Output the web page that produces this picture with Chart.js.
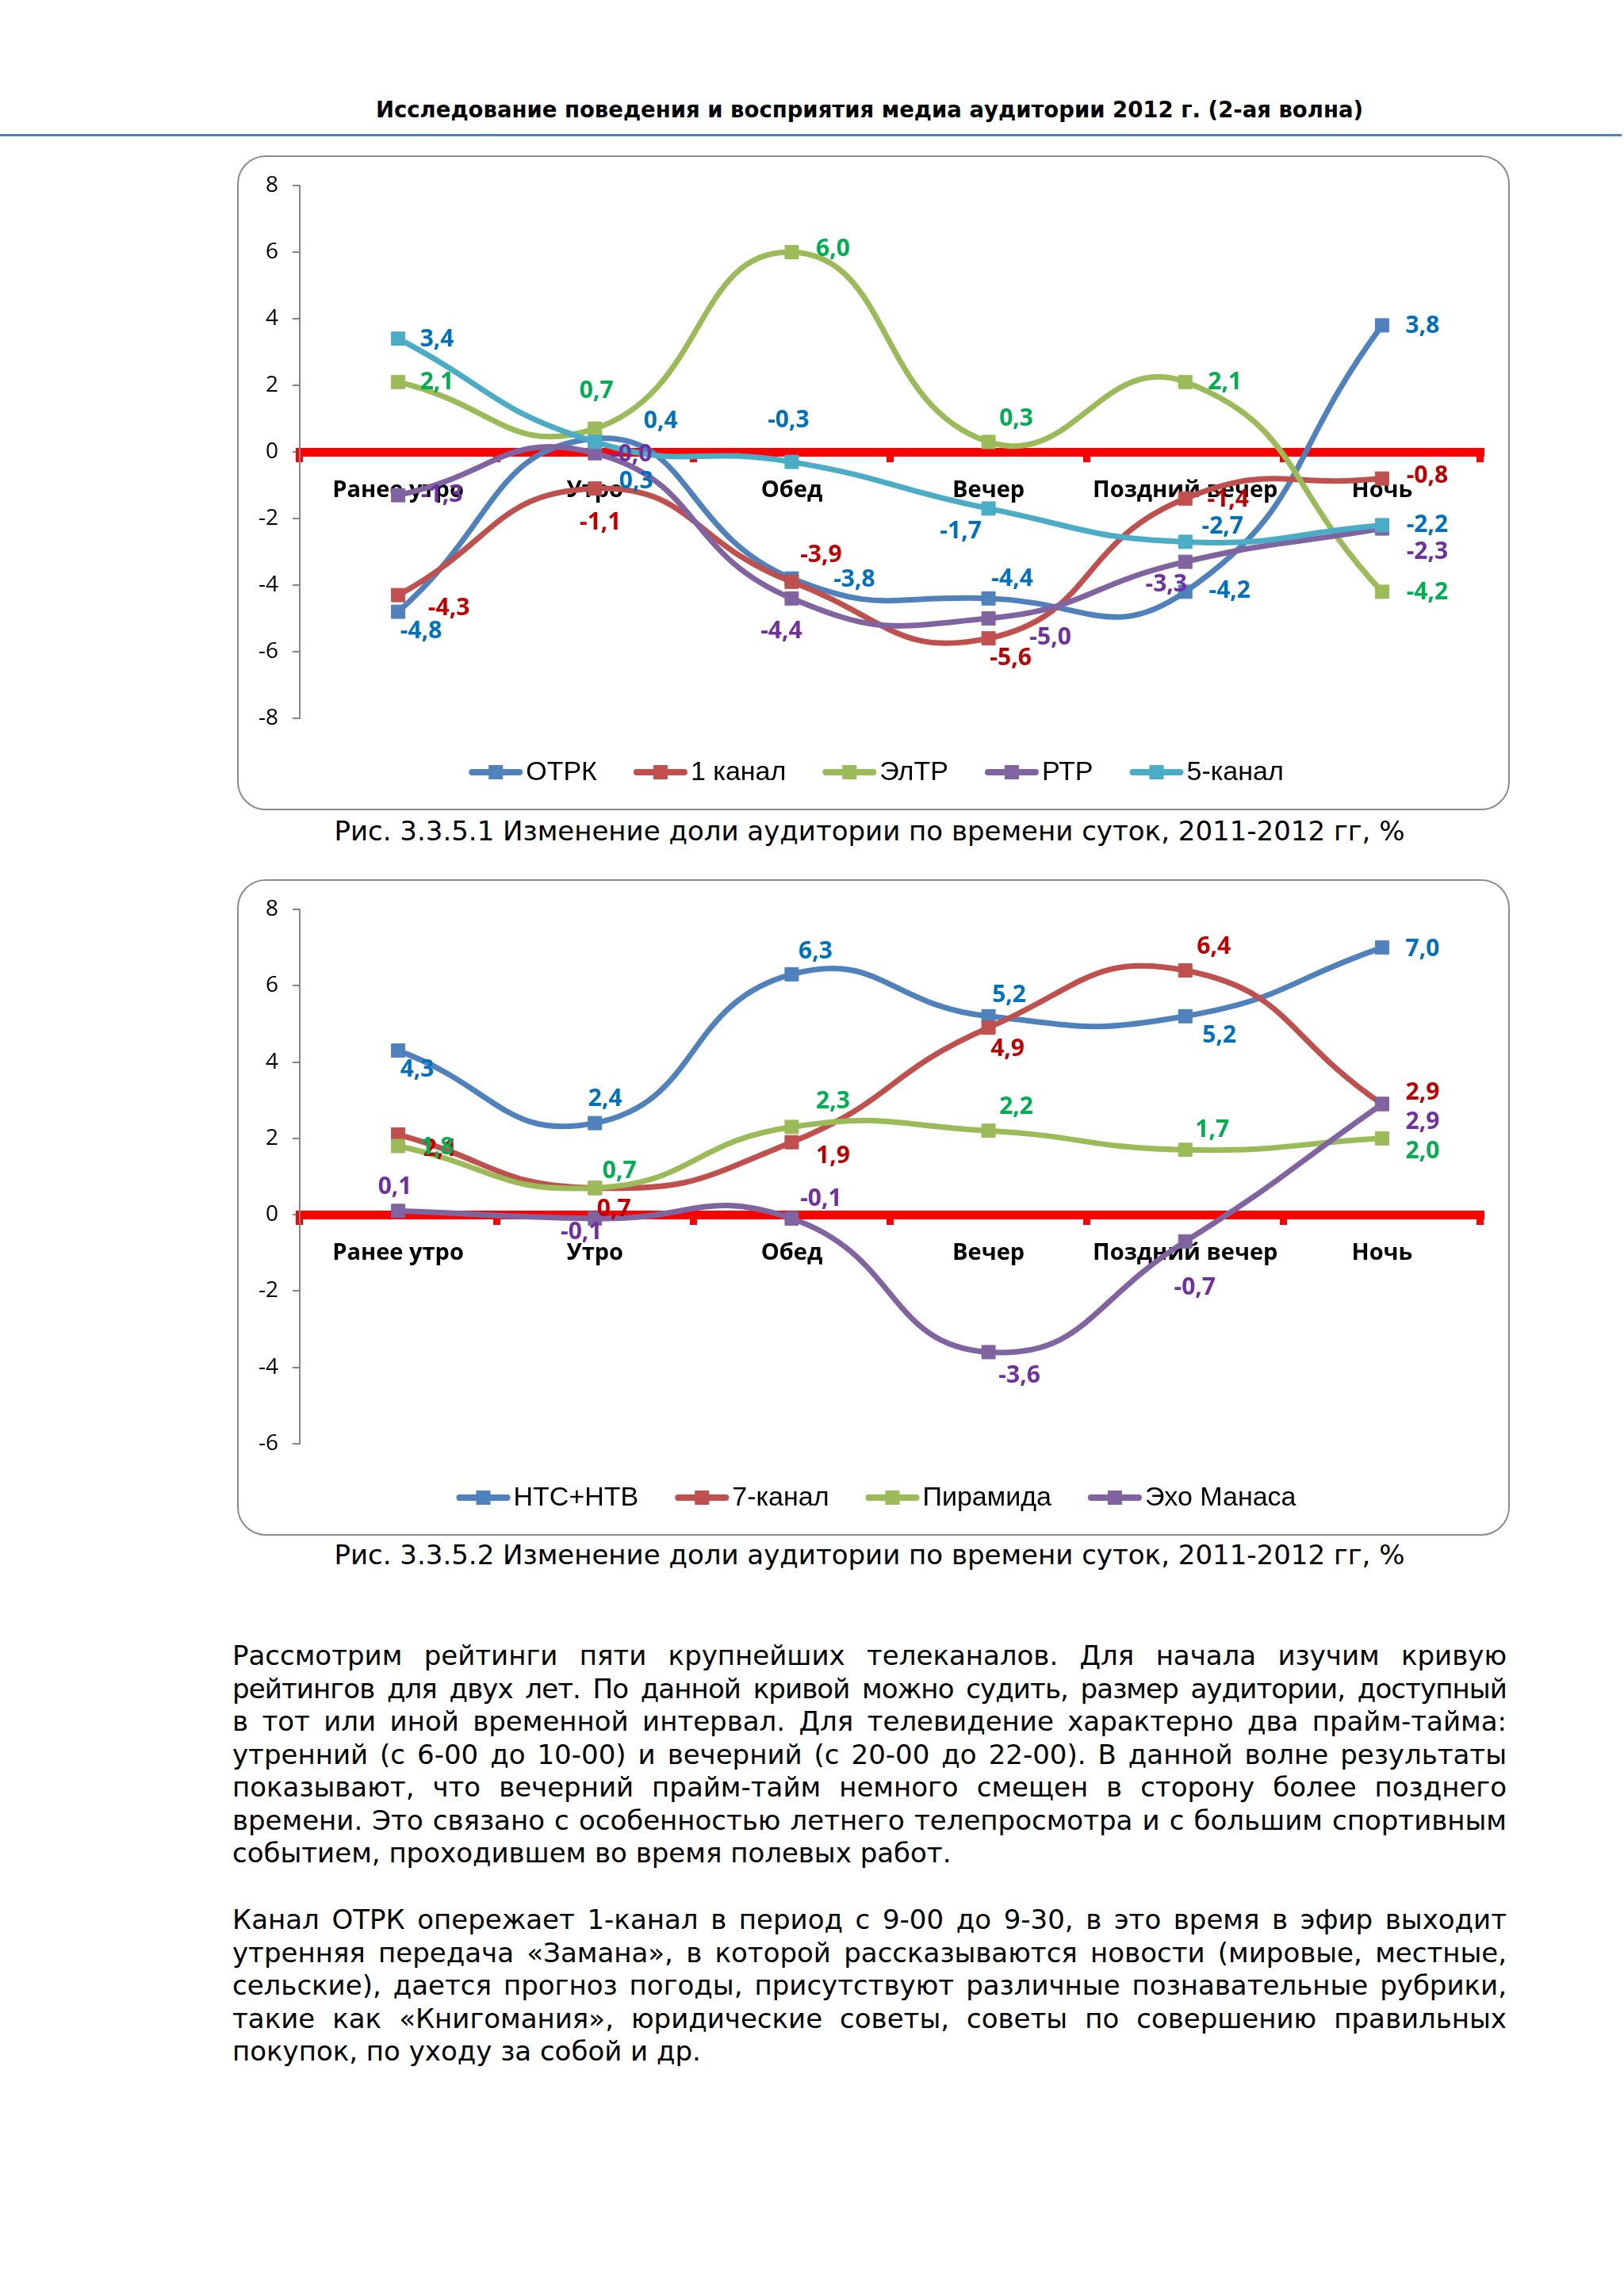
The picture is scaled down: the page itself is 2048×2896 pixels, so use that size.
<!DOCTYPE html>
<html>
<head>
<meta charset="utf-8">
<script src="https://cdn.jsdelivr.net/npm/chart.js@4.4.1/dist/chart.umd.min.js"></script>
<style>
html, body { margin: 0; padding: 0; background: #fff; }
body { width: 2048px; height: 2896px; position: relative; overflow: hidden; font-family: "DejaVu Sans", Verdana, sans-serif; color: #000; }
.header { position: absolute; left: 293px; width: 1607px; top: 118px; line-height: 40px; text-align: center; font-weight: bold; font-size: 27.5px; }
.rule { position: absolute; left: 0; width: 2045px; top: 169px; height: 3px; background: #4F81BD; }
.box { position: absolute; left: 299px; width: 1605px; border: 2px solid #8c8c8c; border-radius: 36px; box-sizing: border-box; background: #fff; }
.box canvas { position: absolute; left: 0; top: 0; }
.caption { position: absolute; left: 293px; width: 1607px; line-height: 40px; text-align: center; font-size: 34px; }
.para { position: absolute; left: 293px; width: 1607px; font-size: 34px; line-height: 41.5px; }
.para div { text-align: justify; text-align-last: justify; }
.para div.last { text-align: left; text-align-last: left; }
.para div.tight { letter-spacing: -0.9px; }
</style>
</head>
<body>
<div class="header">Исследование поведения и восприятия медиа аудитории 2012 г. (2-ая волна)</div>
<div class="rule"></div>

<div class="box" style="top:196px;height:826px;"><canvas id="chart1" width="1601" height="822"></canvas></div>
<div class="caption" style="top:1028px;">Рис. 3.3.5.1 Изменение доли аудитории по времени суток, 2011-2012 гг, %</div>

<div class="box" style="top:1109px;height:828px;"><canvas id="chart2" width="1601" height="824"></canvas></div>
<div class="caption" style="top:1941px;">Рис. 3.3.5.2 Изменение доли аудитории по времени суток, 2011-2012 гг, %</div>

<div class="para" style="top:2068px;">
  <div>Рассмотрим рейтинги пяти крупнейших телеканалов. Для начала изучим кривую</div>
  <div class="tight">рейтингов для двух лет. По данной кривой можно судить, размер аудитории, доступный</div>
  <div>в тот или иной временной интервал. Для телевидение характерно два прайм-тайма:</div>
  <div>утренний (с 6-00 до 10-00) и вечерний (с 20-00 до 22-00). В данной волне результаты</div>
  <div>показывают, что вечерний прайм-тайм немного смещен в сторону более позднего</div>
  <div>времени. Это связано с особенностью летнего телепросмотра и с большим спортивным</div>
  <div class="last">событием, проходившем во время полевых работ.</div>
</div>

<div class="para" style="top:2401px;">
  <div>Канал ОТРК опережает 1-канал в период с 9-00 до 9-30, в это время в эфир выходит</div>
  <div>утренняя передача «Замана», в которой рассказываются новости (мировые, местные,</div>
  <div>сельские), дается прогноз погоды, присутствуют различные познавательные рубрики,</div>
  <div>такие как «Книгомания», юридические советы, советы по совершению правильных</div>
  <div class="last">покупок, по уходу за собой и др.</div>
</div>

<script>
// Time-of-day categories (shared by both charts)
const periods = ['Ранее утро', 'Утро', 'Обед', 'Вечер', 'Поздний вечер', 'Ночь'];

// Chart 1 series
const otrk   = [-4.8, 0.4, -3.8, -4.4, -4.2, 3.8];
const kanal1 = [-4.3, -1.1, -3.9, -5.6, -1.4, -0.8];
const eltr   = [2.1, 0.7, 6.0, 0.3, 2.1, -4.2];
const rtr    = [-1.3, -0.04, -4.4, -5.0, -3.3, -2.3];
const kanal5 = [3.4, 0.3, -0.3, -1.7, -2.7, -2.2];

// Chart 2 series
const ntsNtv    = [4.3, 2.4, 6.3, 5.2, 5.2, 7.0];
const kanal7    = [2.1, 0.7, 1.9, 4.9, 6.4, 2.9];
const piramida  = [1.8, 0.7, 2.3, 2.2, 1.7, 2.0];
const ehoManasa = [0.1, -0.1, -0.1, -3.6, -0.7, 2.9];

// Excel 2007 palette
const lineColors = {
    blue: '#4F81BD',
    red: '#C0504D',
    green: '#9BBB59',
    purple: '#8064A2',
    cyan: '#4BACC6'
};
const labelColors = {
    blue: '#0070C0',
    red: '#C00000',
    green: '#00B050',
    purple: '#7030A0'
};

// Label offsets from the marker (px), one pair per point
const offsets1 = [
    [[29, 25], [83, -22], [79, 2], [30, -24], [56, -1], [51, 1]],
    [[64, 17], [7, 43], [37, -33], [28, 25], [54, 2], [57, -3]],
    [[49, 1], [2, -47], [52, -4], [35, -29], [50, 1], [57, 1]],
    [[55, 0], [46, 2], [-13, 42], [78, 24], [-24, 29], [57, 30]],
    [[49, 1], [52, 50], [-4, -52], [-35, 29], [47, -19], [57, 0]]
];
const offsets2 = [
    [[24, 24], [13, -30], [30, -28], [26, -26], [43, 25], [51, 2]],
    [[53, 18], [24, 27], [52, 18], [24, 27], [36, -30], [51, -14]],
    [[49, 2], [31, -21], [52, -32], [35, -30], [34, -25], [51, 17]],
    [[-4, -30], [-17, 17], [37, -25], [39, 30], [12, 59], [51, 23]]
];

const fmt = v => v.toFixed(1).replace('.', ',');

// Draws the value labels next to each marker (after everything else)
const valueLabels = {
    id: 'valueLabels',
    afterDraw(chart, args, opts) {
        const ctx = chart.ctx;
        ctx.save();
        ctx.font = 'bold 30px "Open Sans", sans-serif';
        ctx.textAlign = 'center';
        ctx.textBaseline = 'middle';
        chart.data.datasets.forEach((ds, i) => {
            const meta = chart.getDatasetMeta(i);
            ctx.fillStyle = opts.colors[i];
            meta.data.forEach((pt, j) => {
                const o = opts.offsets[i][j];
                ctx.fillText(fmt(ds.data[j]), pt.x + o[0], pt.y + o[1]);
            });
        });
        ctx.restore();
    }
};

// Excel-like legend: line segment with a square marker
const lineLegend = {
    id: 'lineLegend',
    afterDraw(chart, args, opts) {
        const ctx = chart.ctx;
        const iconW = 68, gap = 4, spacing = 46;
        ctx.save();
        ctx.font = '34px "Liberation Sans", Arial, sans-serif';
        const items = chart.data.datasets.map(ds => ({
            ds,
            w: iconW + gap + ctx.measureText(ds.label).width
        }));
        const total = items.reduce((s, it) => s + it.w, 0) + spacing * (items.length - 1);
        let x = opts.centerX - total / 2;
        const y = opts.y;
        items.forEach(it => {
            const c = it.ds.borderColor;
            ctx.strokeStyle = c;
            ctx.lineWidth = 8;
            ctx.lineCap = 'round';
            ctx.beginPath();
            ctx.moveTo(x + 4, y);
            ctx.lineTo(x + iconW - 4, y);
            ctx.stroke();
            ctx.fillStyle = c;
            ctx.fillRect(x + iconW / 2 - 9, y - 9, 18, 18);
            ctx.fillStyle = '#000';
            ctx.textAlign = 'left';
            ctx.textBaseline = 'middle';
            ctx.fillText(it.ds.label, x + iconW + gap, y + 1);
            x += it.w + spacing;
        });
        ctx.restore();
    }
};

function makeDataset(label, data, color, index) {
    return {
        label: label,
        data: data,
        borderColor: color,
        backgroundColor: color,
        borderWidth: 7,
        tension: 0.5,
        fill: false,
        pointStyle: 'rect',
        pointRadius: 12,
        pointBorderWidth: 1,
        pointBackgroundColor: color,
        pointBorderColor: color,
        order: -index
    };
}

function makeChart(canvasId, datasets, yMin, yMax, bottomPad, labelOpts, legendY) {
    return new Chart(document.getElementById(canvasId), {
        type: 'line',
        data: { labels: periods, datasets: datasets },
        options: {
            responsive: false,
            devicePixelRatio: 1,
            animation: false,
            layout: { padding: { top: 36, right: 35, bottom: bottomPad, left: 0 } },
            scales: {
                // red zero line with boundary ticks, under the curves
                x: {
                    type: 'category',
                    offset: true,
                    position: { y: 0 },
                    afterFit(s) { s.height = 0; },
                    border: { display: true, color: '#FF0000', width: 11 },
                    grid: {
                        display: true, offset: true, drawOnChartArea: false,
                        drawTicks: true, tickLength: 7, color: '#FF0000', lineWidth: 9
                    },
                    ticks: { display: false, autoSkip: false }
                },
                // category names, drawn above the curves
                xNames: {
                    type: 'category',
                    axis: 'x',
                    offset: true,
                    position: { y: 0 },
                    z: 1,
                    afterFit(s) { s.height = 0; },
                    border: { display: false },
                    grid: { display: false },
                    ticks: {
                        color: '#000', padding: 23, maxRotation: 0, autoSkip: false,
                        font: { family: '"Open Sans", sans-serif', weight: 'bold', size: 29 }
                    }
                },
                y: {
                    min: yMin,
                    max: yMax,
                    afterFit(s) { s.width = 77; },
                    border: { display: true, color: '#868686', width: 2 },
                    grid: {
                        display: true, drawOnChartArea: false, drawTicks: true,
                        tickLength: 9, color: '#868686', lineWidth: 2
                    },
                    ticks: {
                        stepSize: 2, color: '#000', padding: 18,
                        font: { family: '"Open Sans", sans-serif', size: 28 }
                    }
                }
            },
            plugins: {
                legend: { display: false },
                tooltip: { enabled: false },
                valueLabels: labelOpts,
                lineLegend: { centerX: 804, y: legendY }
            }
        },
        plugins: [valueLabels, lineLegend]
    });
}

makeChart('chart1', [
    makeDataset('ОТРК', otrk, lineColors.blue, 0),
    makeDataset('1 канал', kanal1, lineColors.red, 1),
    makeDataset('ЭлТР', eltr, lineColors.green, 2),
    makeDataset('РТР', rtr, lineColors.purple, 3),
    makeDataset('5-канал', kanal5, lineColors.cyan, 4)
], -8, 8, 114, {
    offsets: offsets1,
    colors: [labelColors.blue, labelColors.red, labelColors.green, labelColors.purple, labelColors.blue]
}, 776);

makeChart('chart2', [
    makeDataset('НТС+НТВ', ntsNtv, lineColors.blue, 0),
    makeDataset('7-канал', kanal7, lineColors.red, 1),
    makeDataset('Пирамида', piramida, lineColors.green, 2),
    makeDataset('Эхо Манаса', ehoManasa, lineColors.purple, 3)
], -6, 8, 114, {
    offsets: offsets2,
    colors: [labelColors.blue, labelColors.red, labelColors.green, labelColors.purple]
}, 778);
</script>
</body>
</html>
